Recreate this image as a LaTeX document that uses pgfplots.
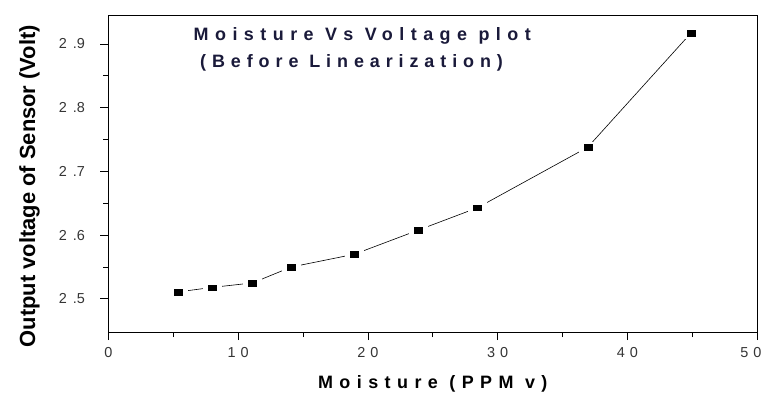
\documentclass[border=0pt]{standalone}
\usepackage{pgfplots}
\pgfplotsset{compat=1.18}
\usepackage{pgfplotstable}
\usepackage{graphicx}
\usepackage{fontspec}
\setmainfont{Liberation Sans}
\newfontfamily\spaced[LetterSpace=36]{Liberation Sans}
\newfontfamily\spacedb[LetterSpace=33]{Liberation Sans}
\definecolor{tickgray}{HTML}{353535}
\definecolor{titlecol}{HTML}{1A1A3A}
\pgfplotstableread{
x y
5.4 2.511
8.0 2.518
11.1 2.525
14.1 2.550
18.95 2.570
23.9 2.608
28.45 2.643
36.95 2.738
44.9 2.917
}\datatab
\begin{document}
\begin{tikzpicture}
\begin{axis}[
  at={(108.5bp,65bp)}, anchor=south west,
  scale only axis,
  width=648.5bp, height=317bp,
  xmin=0, xmax=50, ymin=2.448, ymax=2.9455,
  xtick={0,10,20,30,40,50},
  xticklabels={0,1\kern5bp0,2\kern5bp0,3\kern5bp0,4\kern5bp0,5\kern5bp0\kern12bp},
  ytick={2.5,2.6,2.7,2.8,2.9},
  yticklabels={2\kern6bp.5,2\kern6bp.6,2\kern6bp.7,2\kern6bp.8,2\kern6bp.9},
  minor x tick num=1, minor y tick num=1,
  tick align=outside, tick pos=left,
  major tick length=8bp, minor tick length=5bp,
  every tick/.style={black, line width=0.8bp},
  axis line style={black, line width=0.8bp},
  tick label style={font=\fontsize{14.5}{16}\selectfont, text=tickgray},
  xticklabel style={yshift=-4bp},
  yticklabel style={xshift=-12bp},
  xlabel={\spaced\bfseries\fontsize{18}{20}\selectfont Moisture (PPM v)},
  ylabel={\bfseries\fontsize{22}{24}\selectfont Output voltage of Sensor (Volt)},
  xlabel style={at={(axis description cs:0.5,-0.164)}, anchor=center},
  ylabel style={at={(axis description cs:-0.122,0.46)}, anchor=center, rotate=0},
]
\addplot[black, line width=0.6bp, mark=none] table[x=x,y=y]{\datatab};
\addplot[only marks, mark=square*, mark size=5bp, mark options={draw=white, fill=white, xscale=1.8, yscale=1.1}] table[x=x,y=y]{\datatab};
\addplot[only marks, mark=square*, mark size=2.75bp, mark options={draw=black, fill=black, line width=0.2bp, xscale=1.45}] table[x=x,y=y]{\datatab};
\node[anchor=west, text=titlecol, font=\spaced\bfseries\fontsize{18}{20}\selectfont] at (rel axis cs:0.126,0.934) {Moisture Vs Voltage plot};
\node[anchor=west, text=titlecol, font=\spacedb\bfseries\fontsize{18}{20}\selectfont] at (rel axis cs:0.136,0.849) {(Before Linearization)};
\end{axis}
\pgfresetboundingbox
\path (0,0) rectangle (764bp,397bp);
\end{tikzpicture}
\end{document}
